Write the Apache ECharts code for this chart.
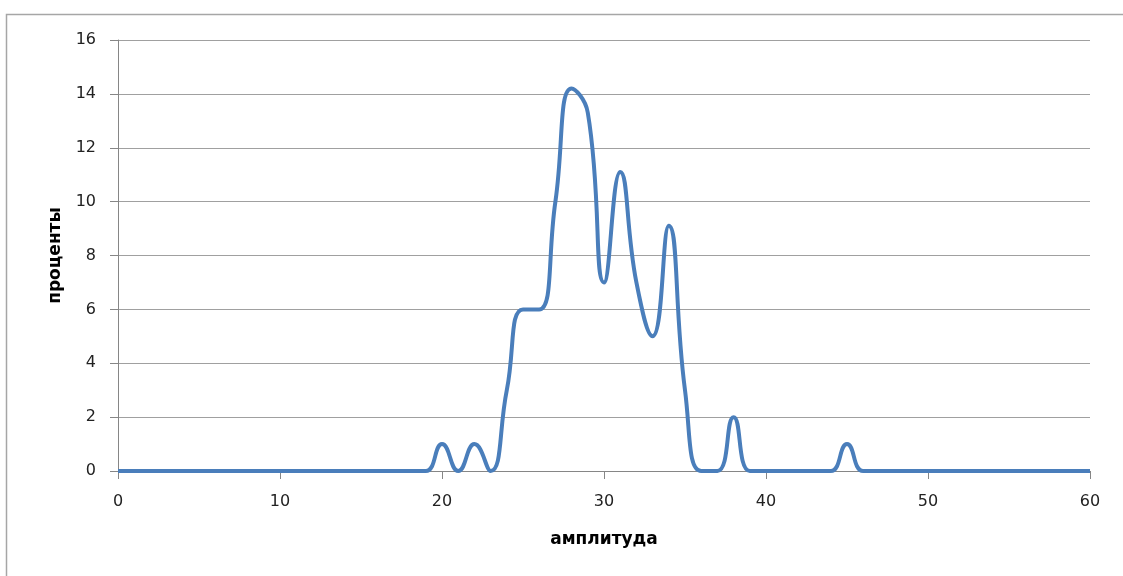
<!DOCTYPE html>
<html>
<head>
<meta charset="utf-8">
<script src="https://cdn.jsdelivr.net/npm/echarts@6/dist/echarts.min.js"></script>
<style>html,body{margin:0;padding:0;background:#fff;}#c{width:1123px;height:576px;}</style>
</head>
<body>
<div id="c"></div>
<script>
const xValues = [0,1,2,3,4,5,6,7,8,9,10,11,12,13,14,15,16,17,18,19,20,21,22,23,24,25,26,27,28,29,30,31,32,33,34,35,36,37,38,39,40,41,42,43,44,45,46,47,48,49,50,51,52,53,54,55,56,57,58,59,60];
const percents = [0,0,0,0,0,0,0,0,0,0,0,0,0,0,0,0,0,0,0,0,1,0,1,0,3,6,6,10,14.2,13.3,7,11.1,7,5,9.1,3,0,0,2,0,0,0,0,0,0,1,0,0,0,0,0,0,0,0,0,0,0,0,0,0,0];
const xTitle = 'амплитуда';
const yTitle = 'проценты';

const chart = echarts.init(document.getElementById('c'), null, {renderer: 'canvas'});
const font = 'DejaVu Sans';
chart.setOption({
  animation: false,
  backgroundColor: '#fff',
  graphic: [{
    type: 'rect', shape: {x: 6.5, y: 14.5, width: 1200, height: 700},
    style: {fill: 'none', stroke: '#a6a6a6', lineWidth: 1.5}, silent: true
  }],
  grid: {left: 118, top: 40, right: 33, bottom: 105},
  xAxis: {
    type: 'value', min: 0, max: 60, interval: 10,
    name: xTitle, nameLocation: 'middle', nameGap: 60,
    nameTextStyle: {fontFamily: font, fontWeight: 'bold', fontSize: 17, color: '#000'},
    axisLine: {lineStyle: {color: '#868686', width: 1}},
    axisTick: {show: true, length: 8, lineStyle: {color: '#868686'}},
    axisLabel: {fontFamily: font, fontSize: 16, color: '#222', margin: 23},
    splitLine: {show: false}
  },
  yAxis: {
    type: 'value', min: 0, max: 16, interval: 2,
    name: yTitle, nameLocation: 'middle', nameGap: 54,
    nameTextStyle: {fontFamily: font, fontWeight: 'bold', fontSize: 17, color: '#000'},
    axisLine: {show: true, lineStyle: {color: '#868686', width: 1}},
    axisTick: {show: true, length: 8, lineStyle: {color: '#868686'}},
    axisLabel: {fontFamily: font, fontSize: 16, color: '#222', margin: 22},
    splitLine: {show: true, lineStyle: {color: '#a0a0a0', width: 1}}
  },
  series: [{
    type: 'line',
    data: xValues.map((x, i) => [x, percents[i]]),
    smooth: 0.5,
    showSymbol: false,
    clip: true,
    lineStyle: {color: '#4a7ebb', width: 4},
    itemStyle: {color: '#4a7ebb'}
  }]
});
</script>
</body>
</html>
